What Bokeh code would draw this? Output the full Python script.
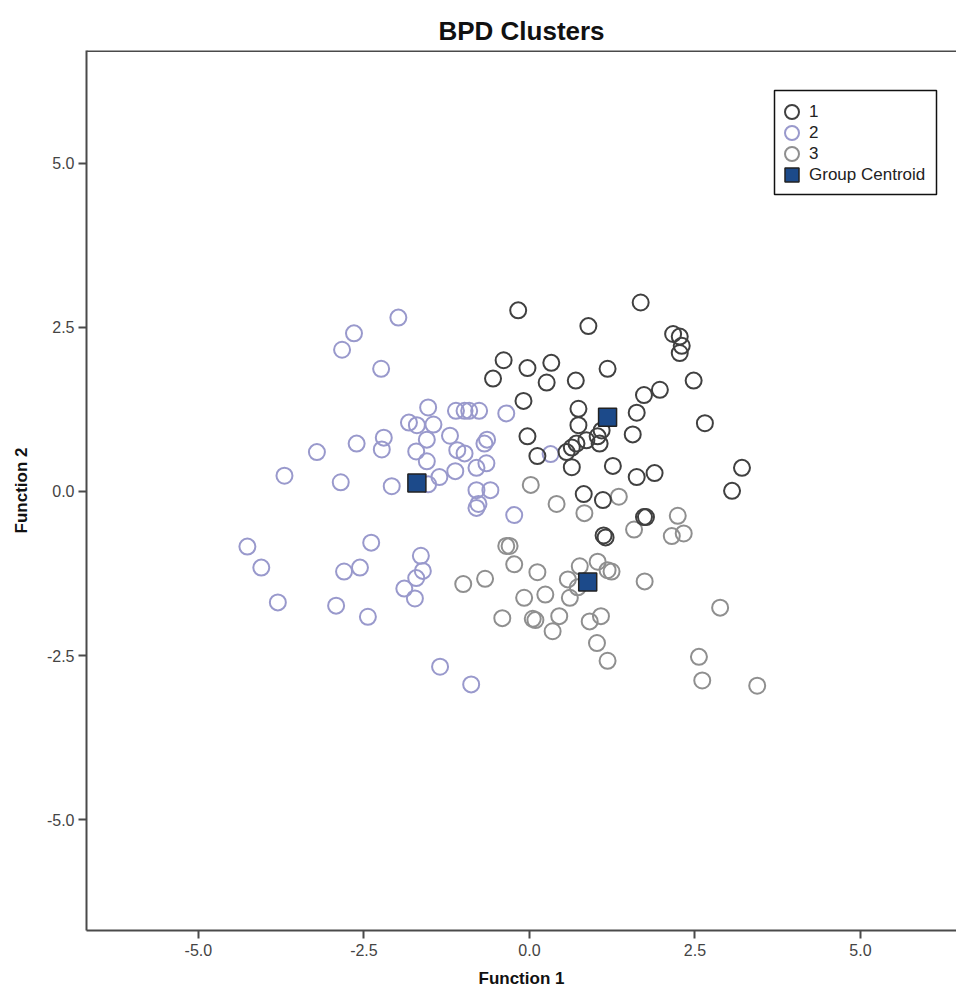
from bokeh.plotting import figure
from bokeh.models import (Range1d, FixedTicker, PrintfTickFormatter, Legend, LegendItem, Span,
                          BoxAnnotation)
from bokeh.embed import file_html
from bokeh.resources import INLINE

# Cluster 1 (Function 1, Function 2)
c1_x = [-0.17, 1.68, 0.89, 2.17, 2.27, 2.30, 2.27, -0.39, -0.03, 0.33, 0.26, -0.55, 0.70, 1.18,
        2.48, -0.09, 1.97, 1.73, 0.74, 1.62, 2.65, 0.74, 1.09, 1.56, -0.03, 1.03, 1.06, 0.86,
        0.71, 0.64, 0.56, 0.12, 0.64, 1.26, 1.62, 1.89, 3.21, 3.06, 0.82, 1.11, 1.73, 1.76,
        1.12, 1.15]
c1_y = [2.76, 2.88, 2.52, 2.40, 2.36, 2.22, 2.11, 2.00, 1.88, 1.96, 1.66, 1.72, 1.69, 1.87,
        1.69, 1.38, 1.55, 1.47, 1.26, 1.20, 1.04, 1.01, 0.93, 0.87, 0.84, 0.84, 0.73, 0.78,
        0.73, 0.67, 0.60, 0.54, 0.37, 0.39, 0.22, 0.28, 0.36, 0.01, -0.04, -0.13, -0.39, -0.39,
        -0.67, -0.70]

# Cluster 2
c2_x = [-1.98, -2.65, -2.83, -2.24, -1.53, -1.82, -1.70, -1.45, -1.11, -0.98, -0.91, -0.76,
        -0.35, -2.20, -2.23, -2.61, -3.21, -3.70, -2.85, -2.08, -1.53, -1.55, -1.71, -1.55,
        -1.20, -1.09, -0.98, -0.68, -0.64, -0.80, -0.65, -1.12, -1.36, -0.80, -0.59, -0.77,
        -0.80, -0.23, 0.32, -4.26, -4.05, -3.80, -2.39, -2.80, -2.56, -2.92, -2.44, -1.64,
        -1.61, -1.71, -1.89, -1.73, -1.35, -0.88]
c2_y = [2.65, 2.41, 2.16, 1.87, 1.28, 1.05, 1.01, 1.02, 1.23, 1.23, 1.23, 1.23,
        1.19, 0.82, 0.64, 0.73, 0.60, 0.24, 0.14, 0.08, 0.11, 0.79, 0.61, 0.46,
        0.85, 0.63, 0.58, 0.73, 0.79, 0.36, 0.43, 0.31, 0.22, 0.02, 0.02, -0.19,
        -0.25, -0.36, 0.57, -0.84, -1.16, -1.69, -0.78, -1.22, -1.16, -1.74, -1.91, -0.98,
        -1.21, -1.32, -1.48, -1.63, -2.67, -2.94]

# Cluster 3
c3_x = [0.02, 0.41, 1.35, 0.83, 2.24, 1.58, 2.15, 2.33, -0.35, -0.30, -0.23, 0.12, 0.76,
        1.03, 1.18, 1.24, 0.58, 0.73, 1.74, -0.08, 0.24, 0.61, -0.41, 0.05, 0.09, 0.45,
        0.35, 0.91, 1.08, 1.02, 1.18, 2.88, 2.56, 2.61, 3.44, -1.00, -0.67]
c3_y = [0.10, -0.19, -0.08, -0.33, -0.37, -0.58, -0.68, -0.64, -0.83, -0.83, -1.11, -1.23, -1.14,
        -1.07, -1.20, -1.22, -1.34, -1.46, -1.37, -1.62, -1.57, -1.62, -1.93, -1.94, -1.96, -1.90,
        -2.13, -1.98, -1.90, -2.31, -2.58, -1.77, -2.52, -2.88, -2.96, -1.41, -1.33]

# Group centroids
cent_x = [1.18, -1.70, 0.88]
cent_y = [1.13, 0.13, -1.38]

ticks = [-5.0, -2.5, 0.0, 2.5, 5.0]
legend_labels = ["1", "2", "3", "Group Centroid"]

FONT = "Liberation Sans"

p = figure(width=956, height=990, output_backend="svg", toolbar_location=None,
           x_range=Range1d(-6.69, 6.45), y_range=Range1d(-6.69, 6.72),
           min_border_left=86, min_border_right=0, min_border_top=50, min_border_bottom=58,
           title="BPD Clusters")
p.title.text_font = FONT
p.title.text_font_size = "26px"
p.title.text_font_style = "bold"
p.title.align = "center"
p.title.text_color = "#111111"

p.outline_line_color = None
p.xgrid.visible = False
p.ygrid.visible = False
p.background_fill_color = "white"

for ax in (p.xaxis[0], p.yaxis[0]):
    ax.ticker = FixedTicker(ticks=ticks)
    ax.formatter = PrintfTickFormatter(format="%.1f")
    ax.axis_line_color = "#4a4a4a"
    ax.axis_line_width = 2
    ax.major_tick_line_color = "#4a4a4a"
    ax.major_tick_line_width = 2
    ax.major_tick_out = 8
    ax.major_tick_in = 0
    ax.minor_tick_line_color = None
    ax.major_label_text_font = FONT
    ax.major_label_text_font_size = "16px"
    ax.major_label_text_color = "#444444"
    ax.axis_label_text_font = FONT
    ax.axis_label_text_font_size = "17px"
    ax.axis_label_text_font_style = "bold"
    ax.axis_label_text_color = "#111111"

p.xaxis.axis_label = "Function 1"
p.yaxis.axis_label = "Function 2"
p.xaxis.major_label_standoff = 5
p.xaxis.axis_label_standoff = 10
p.yaxis.major_label_standoff = 4
p.yaxis.axis_label_standoff = 13
p.yaxis.major_label_orientation = "horizontal"

top_line = Span(location=6.72, dimension="width", line_color="#4a4a4a", line_width=3)
p.add_layout(top_line)

r3 = p.scatter(c3_x, c3_y, marker="circle", size=16, fill_color=None,
               line_color="#8f8f8f", line_width=2)
r2 = p.scatter(c2_x, c2_y, marker="circle", size=16, fill_color=None,
               line_color="#9999cc", line_width=2)
r1 = p.scatter(c1_x, c1_y, marker="circle", size=16, fill_color=None,
               line_color="#404040", line_width=2)
rc = p.scatter(cent_x, cent_y, marker="square", size=18, fill_color="#1c4a8a",
               line_color="#222222", line_width=1.5)

# Legend: one single-item legend per row (to get large glyphs with tight rows),
# plus a frame box around them (screen units relative to the plot frame).
legend_box = BoxAnnotation(left=688, right=850, bottom=736, top=840,
                           left_units="screen", right_units="screen",
                           bottom_units="screen", top_units="screen",
                           fill_color="white", fill_alpha=1.0,
                           line_color="#111111", line_alpha=1.0, line_width=1.5)
p.add_layout(legend_box)

row_bottoms = [801, 780, 759, 738]
for renderer, label, yb in zip([r1, r2, r3, rc], legend_labels, row_bottoms):
    lg = Legend(items=[LegendItem(label=label, renderers=[renderer])],
                location=(688, yb))
    lg.border_line_color = None
    lg.background_fill_alpha = 0.0
    lg.padding = 0
    lg.spacing = 0
    lg.glyph_height = 35
    lg.glyph_width = 35
    lg.label_height = 18
    lg.label_standoff = 0
    lg.margin = 0
    lg.label_text_font = FONT
    lg.label_text_font_size = "17px"
    lg.label_text_color = "#222222"
    p.add_layout(lg)

open("out.html", "w").write(file_html(p, INLINE))
